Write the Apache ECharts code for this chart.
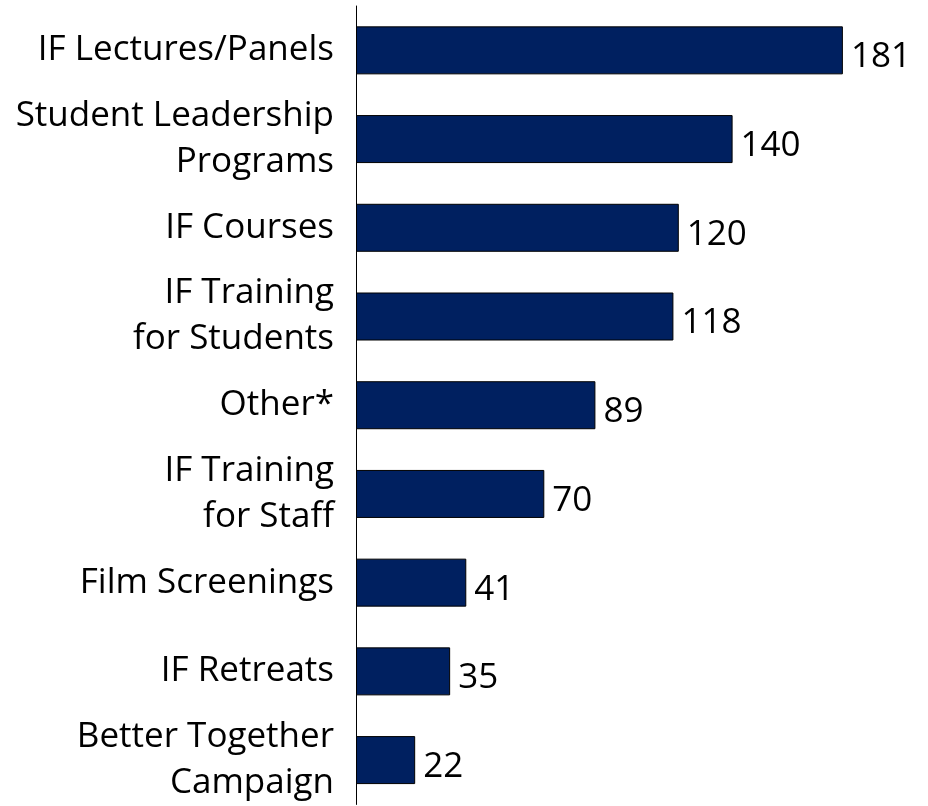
<!DOCTYPE html>
<html>
<head>
<meta charset="utf-8">
<script src="https://cdn.jsdelivr.net/npm/echarts@6/dist/echarts.min.js"></script>
<style>
  html, body { margin: 0; padding: 0; background: #fff; }
  #chart { width: 928px; height: 806px; }
</style>
</head>
<body>
<div id="chart"></div>
<script>
// categories top to bottom
const categories = [
  'IF Lectures/Panels',
  'Student Leadership\nPrograms',
  'IF Courses',
  'IF Training\nfor Students',
  'Other*',
  'IF Training\nfor Staff',
  'Film Screenings',
  'IF Retreats',
  'Better Together\nCampaign'
]
const counts = [181, 140, 120, 118, 89, 70, 41, 35, 22]

const chart = echarts.init(document.getElementById('chart'))

const font = '"Open Sans", sans-serif'

chart.setOption({
  backgroundColor: '#fff',
  animation: false,
  grid: { left: 356, right: 34, top: 6, bottom: 0 },
  xAxis: {
    type: 'value',
    min: 0,
    max: 200,
    show: false
  },
  yAxis: {
    type: 'category',
    data: categories,
    inverse: true,
    axisLine: { show: true, lineStyle: { color: '#000', width: 1 } },
    axisTick: { show: false },
    splitLine: { show: false },
    axisLabel: {
      color: '#000',
      fontFamily: font,
      fontSize: 35,
      lineHeight: 46,
      margin: 22,
      align: 'right'
    }
  },
  series: [
    {
      type: 'bar',
      data: counts,
      barWidth: 48,
      itemStyle: { color: '#002060', borderColor: '#000', borderWidth: 1 },
      label: {
        show: true,
        position: 'right',
        distance: 8,
        offset: [0, 7],
        color: '#000',
        fontFamily: font,
        fontSize: 35
      }
    }
  ]
})
</script>
</body>
</html>
